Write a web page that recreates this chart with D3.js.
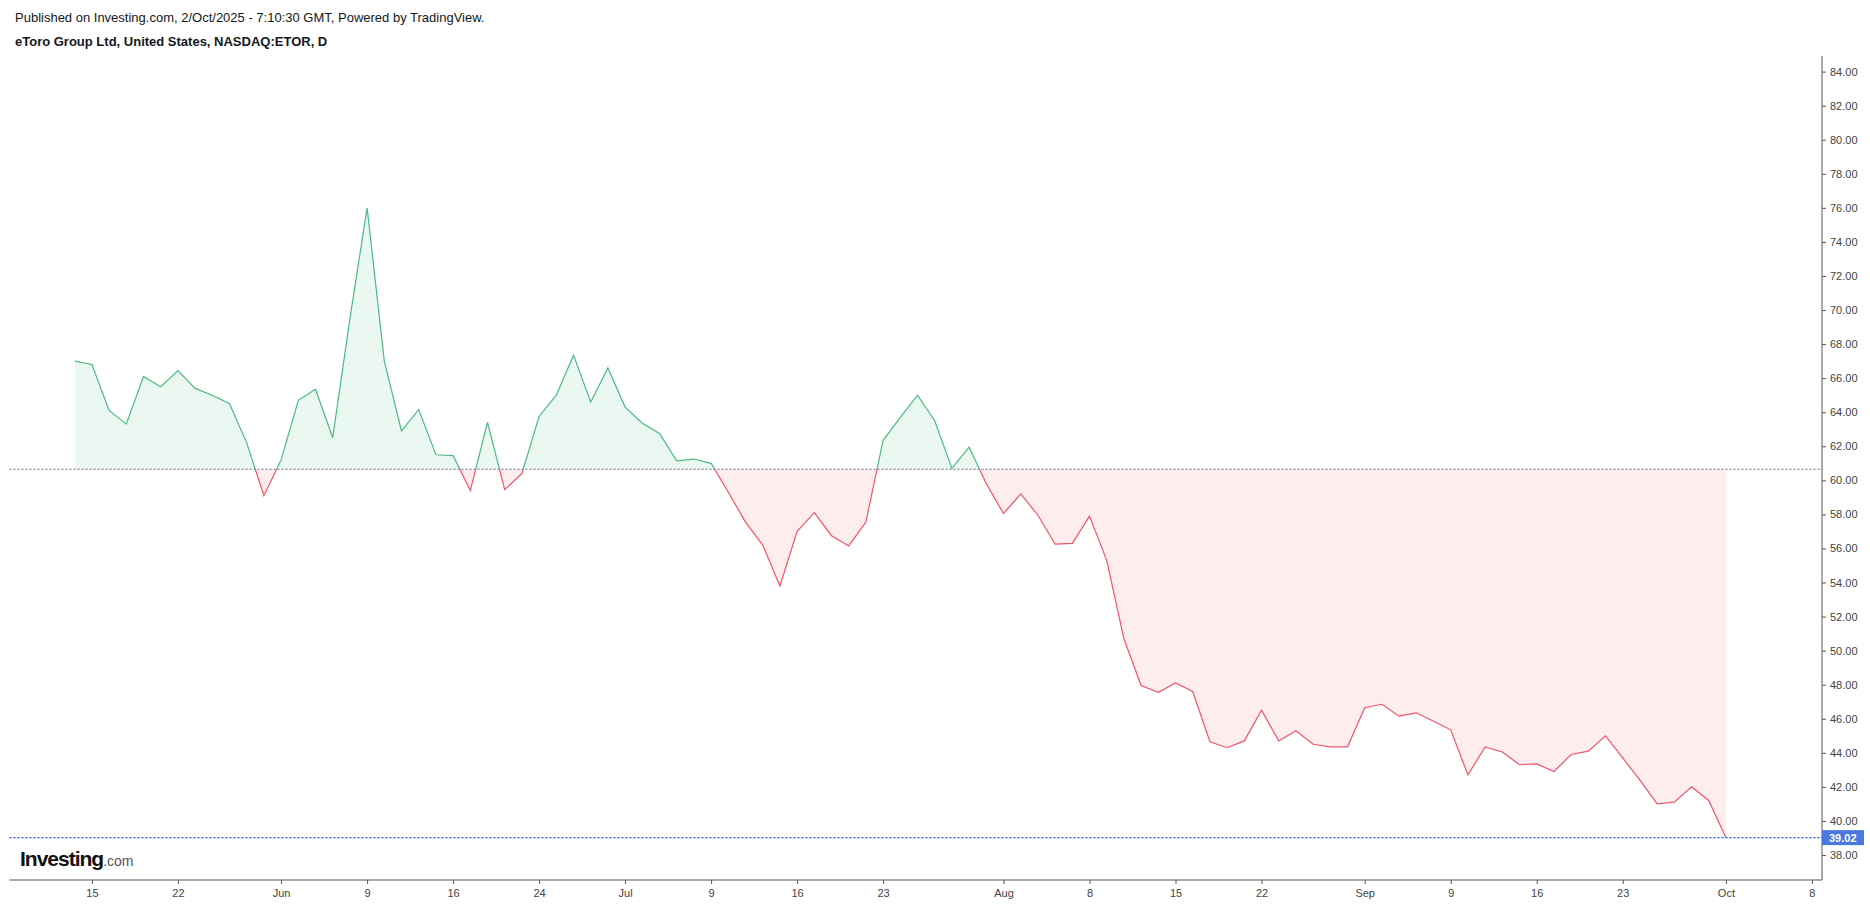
<!DOCTYPE html>
<html>
<head>
<meta charset="utf-8">
<script src="https://cdn.jsdelivr.net/npm/d3@7"></script>
<style>
  body { margin: 0; background: #fff; font-family: "Liberation Sans", Arial, sans-serif; }
  svg { display: block; }
</style>
</head>
<body>
<script>
// trading days, NASDAQ:ETOR, 14 May 2025 .. 1 Oct 2025
var firstDay = '2025-05-14'
var holidays = ['2025-05-26', '2025-06-19', '2025-07-04', '2025-09-01']

// daily closes
var closes = [
  67.0, 66.8, 64.1, 63.3, 66.1, 65.5, 66.45, 65.4, 65.0, 64.5,
  62.2, 59.1, 61.2, 64.7, 65.35, 62.5, 69.5, 76.0, 67.0, 62.9,
  64.15, 61.5, 61.45, 59.4, 63.4, 59.45, 60.4, 63.75, 65.0, 67.35,
  64.6, 66.6, 64.3, 63.35, 62.75, 61.15, 61.25, 61.0, 59.3, 57.55,
  56.2, 53.8, 57.0, 58.1, 56.75, 56.15, 57.55, 62.35, 63.7, 65.0,
  63.5, 60.7, 61.95, 59.8, 58.05, 59.2, 57.95, 56.25, 56.3, 57.9,
  55.3, 50.7, 47.95, 47.55, 48.1, 47.6, 44.65, 44.3, 44.7, 46.5,
  44.7, 45.3, 44.5, 44.35, 44.35, 46.65, 46.85, 46.15, 46.35, 45.85,
  45.35, 42.7, 44.35, 44.05, 43.3, 43.35, 42.9, 43.9, 44.1, 45.0,
  43.7, 42.4, 41.0, 41.1, 42.0, 41.2, 39.02
]
var baseValue = 60.65
var lastPrice = 39.02

var yTicks = d3.range(38, 85, 2)
var xTickDates = ['2025-05-15', '2025-05-22', '2025-06-02', '2025-06-09', '2025-06-16', '2025-06-24',
  '2025-07-01', '2025-07-09', '2025-07-16', '2025-07-23', '2025-08-01', '2025-08-08', '2025-08-15',
  '2025-08-22', '2025-09-02', '2025-09-09', '2025-09-16', '2025-09-23', '2025-10-01', '2025-10-08']
var xTickLabels = ['15', '22', 'Jun', '9', '16', '24', 'Jul', '9', '16', '23', 'Aug', '8', '15',
  '22', 'Sep', '9', '16', '23', 'Oct', '8']

var fmt = d3.utcFormat('%Y-%m-%d')
function tradingDays(from, to) {
    var out = []
    var d = new Date(from + 'T00:00:00Z')
    var end = new Date(to + 'T00:00:00Z')
    while (d <= end) {
        var wd = d.getUTCDay()
        if (wd !== 0 && wd !== 6 && holidays.indexOf(fmt(d)) < 0) out.push(fmt(d))
        d = new Date(d.getTime() + 86400000)
    }
    return out
}
var days = tradingDays(firstDay, '2025-10-08')

var W = 1870, H = 904
var plotLeft = 9.5, plotRight = 1822, plotTop = 56, plotBottom = 880

var x = d3.scaleLinear().domain([0, 96]).range([74.7, 74.7 + 96 * 17.2])
var y = d3.scaleLinear().domain([38, 84]).range([855, 71.6])

var svg = d3.select('body').append('svg').attr('width', W).attr('height', H)

svg.append('text').attr('x', 15).attr('y', 22)
    .attr('font-size', 13).attr('fill', '#131722')
    .text('Published on Investing.com, 2/Oct/2025 - 7:10:30 GMT, Powered by TradingView.')
svg.append('text').attr('x', 15).attr('y', 46)
    .attr('font-size', 13).attr('font-weight', 'bold').attr('fill', '#131722')
    .text('eToro Group Ltd, United States, NASDAQ:ETOR, D')

var data = closes.map(function (v, i) { return {i: i, v: v} })
var yb = y(baseValue)

var defs = svg.append('defs')
defs.append('clipPath').attr('id', 'above').append('rect')
    .attr('x', plotLeft).attr('y', plotTop).attr('width', plotRight - plotLeft).attr('height', yb - plotTop)
defs.append('clipPath').attr('id', 'below').append('rect')
    .attr('x', plotLeft).attr('y', yb).attr('width', plotRight - plotLeft).attr('height', plotBottom - yb)

var area = d3.area().x(function (d) { return x(d.i) }).y0(yb).y1(function (d) { return y(d.v) })
var line = d3.line().x(function (d) { return x(d.i) }).y(function (d) { return y(d.v) })

var parts = [
    {clip: 'above', fill: 'rgba(38,166,104,0.09)', stroke: '#4cba84'},
    {clip: 'below', fill: 'rgba(242,54,69,0.09)', stroke: '#f0566a'}
]
parts.forEach(function (p) {
    var g = svg.append('g').attr('clip-path', 'url(#' + p.clip + ')')
    g.append('path').datum(data).attr('d', area).attr('fill', p.fill)
    g.append('path').datum(data).attr('d', line).attr('fill', 'none')
        .attr('stroke', p.stroke).attr('stroke-width', 1.2)
})

// baseline and last price lines
svg.append('line').attr('x1', plotLeft).attr('x2', plotRight).attr('y1', yb).attr('y2', yb)
    .attr('stroke', '#6a6d78').attr('stroke-width', 1).attr('stroke-dasharray', '2,2')
svg.append('line').attr('x1', plotLeft).attr('x2', plotRight).attr('y1', y(lastPrice)).attr('y2', y(lastPrice))
    .attr('stroke', '#1f4fe0').attr('stroke-width', 1.3).attr('stroke-dasharray', '2,2')

// right axis
var yAxis = svg.append('g').attr('transform', 'translate(' + plotRight + ',0)')
    .call(d3.axisRight(y).tickValues(yTicks).tickSize(4).tickFormat(d3.format('.2f')))
yAxis.select('.domain').attr('d', 'M0,' + plotTop + 'V' + plotBottom).attr('stroke', '#555')
yAxis.selectAll('line').attr('stroke', '#555')
yAxis.selectAll('text').attr('font-size', 11).attr('fill', '#444').attr('x', 8)
    .attr('font-family', '"Liberation Sans", Arial, sans-serif')

var lp = svg.append('g').attr('transform', 'translate(' + plotRight + ',' + y(lastPrice) + ')')
lp.append('rect').attr('x', 0).attr('y', -7.5).attr('width', 42).attr('height', 15).attr('fill', '#4a78e0')
lp.append('text').attr('x', 7).attr('y', 4).attr('font-size', 11).attr('font-weight', 'bold')
    .attr('fill', '#fff').text(d3.format('.2f')(lastPrice))

// bottom axis
var xTickIdx = xTickDates.map(function (d) { return days.indexOf(d) })
var xAxis = svg.append('g').attr('transform', 'translate(0,' + plotBottom + ')')
    .call(d3.axisBottom(x).tickValues(xTickIdx).tickSize(4)
        .tickFormat(function (d, i) { return xTickLabels[i] }))
xAxis.select('.domain').attr('d', 'M' + plotLeft + ',0H' + plotRight).attr('stroke', '#555')
xAxis.selectAll('line').attr('stroke', '#555')
xAxis.selectAll('text').attr('font-size', 11).attr('fill', '#444').attr('y', 9)
    .attr('font-family', '"Liberation Sans", Arial, sans-serif')

// watermark
var logo = svg.append('text').attr('x', 20).attr('y', 866)
logo.append('tspan').attr('font-size', 21).attr('font-weight', 'bold').attr('fill', '#111')
    .attr('letter-spacing', -1).text('Investing')
logo.append('tspan').attr('font-size', 14).attr('fill', '#555').text('.com')
</script>
</body>
</html>
